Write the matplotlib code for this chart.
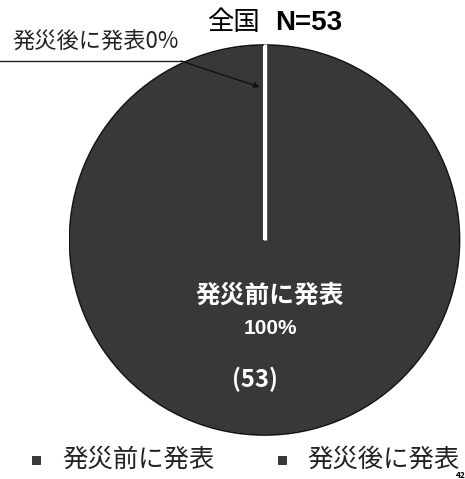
import matplotlib
matplotlib.use("Agg")
import matplotlib.pyplot as plt
from matplotlib.patches import Rectangle

plt.rcParams['font.family'] = ['Noto Sans CJK JP', 'DejaVu Sans']

categories = ["発災前に発表", "発災後に発表"]
counts = [53, 0]
percents = [100, 0]
title_region = "全国"
total_n = 53

W, H = 465, 479
fig = plt.figure(figsize=(W / 100, H / 100), dpi=100)
fig.patch.set_facecolor("white")

def fx(px):
    return px / W

def fy(py):
    return 1 - py / H

# pie axes: radius ~196 px, centre at (264.5, 240)
cx, cy, r = 264.5, 240, 196
ax = fig.add_axes([fx(cx - r), fy(cy + r), 2 * r / W, 2 * r / H])

pie_color = "#383838"
wedges, _ = ax.pie(counts, colors=[pie_color, pie_color], startangle=90,
                   counterclock=False, radius=1,
                   wedgeprops=dict(edgecolor="white", linewidth=2.2))
ax.set_xlim(-1, 1)
ax.set_ylim(-1, 1)
ax.set_aspect("auto")
ax.axis("off")
# dark outer rim
ax.add_patch(plt.Circle((0, 0), 0.995, fill=False, edgecolor="#111111", linewidth=1.2))
# white boundary for the zero slice
ax.plot([0, 0], [0, 1], color="white", linewidth=2.4, solid_capstyle="butt")

# title
fig.text(fx(207), fy(23), title_region, fontsize=19, ha="left", va="center", color="black")
fig.text(fx(275), fy(23), f"N={total_n}", fontsize=20, fontweight="bold",
         ha="left", va="center", color="black", family="Liberation Sans")

# callout for the zero slice
fig.text(fx(12), fy(42), f"{categories[1]}{percents[1]}%", fontsize=16,
         ha="left", va="center", color="#222222")
fig.add_artist(plt.Line2D([0, fx(181)], [fy(61), fy(61)], color="#222222", linewidth=1))
ax.annotate("", xy=(-0.025, (cy - 87) / r), xycoords="data",
            xytext=(fx(181), fy(61)), textcoords="figure fraction",
            arrowprops=dict(arrowstyle="-|>", color="#111111", linewidth=1,
                            mutation_scale=8, shrinkA=0, shrinkB=0))

# label inside the big slice
fig.text(fx(270), fy(296), categories[0], fontsize=17.8, fontweight="bold",
         ha="center", va="center", color="white")
fig.text(fx(270), fy(328), f"{percents[0]}%", fontsize=15, fontweight="bold",
         ha="center", va="center", color="white", family="Liberation Sans")
fig.text(fx(255), fy(379), f"({counts[0]})", fontsize=17, fontweight="bold",
         ha="center", va="center", color="white")

# legend
leg_y = 460
for xs, xt, label in [(36, 62, categories[0]), (282, 307, categories[1])]:
    fig.add_artist(Rectangle((fx(xs - 4), fy(leg_y + 4)), 8 / W, 8 / H,
                             facecolor="#3a3a3a", edgecolor="#222222", linewidth=0.6))
    fig.text(fx(xt), fy(leg_y), label, fontsize=18.3, ha="left", va="center", color="#222222")

# page number
fig.text(fx(456), fy(475), "42", fontsize=6, fontweight="bold", ha="left",
         va="center", color="black")

fig.savefig("out.png", dpi=100, facecolor="white")
